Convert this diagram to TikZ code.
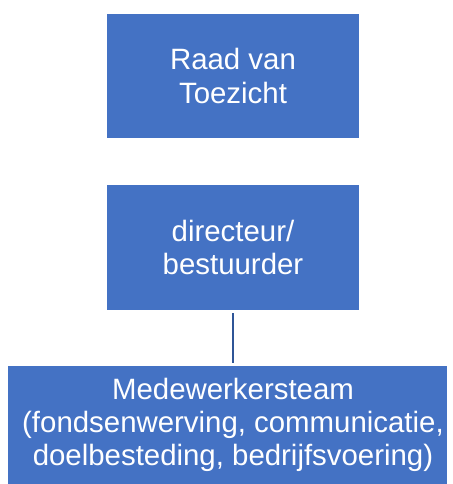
\documentclass[tikz,border=0pt]{standalone}
\usepackage{fontspec}
\setmainfont{Liberation Sans}
\definecolor{boxblue}{HTML}{4472C4}
\definecolor{lineblue}{HTML}{2F5597}
\begin{document}
\begin{tikzpicture}[x=1pt,y=-1pt,
  orgbox/.style={draw=none,fill=boxblue,text=white,align=center,inner sep=0pt,
    font=\fontsize{29.4}{33.2}\selectfont},
  orgtext/.style={text=white,align=center,inner sep=0pt,
    font=\fontsize{29.4}{33.2}\selectfont}]
\useasboundingbox (0,0) rectangle (452,484);
\node[orgbox,minimum width=252pt,minimum height=124pt] (rvt) at (233,76) {Raad van\\Toezicht};
\node[orgbox,minimum width=252pt,minimum height=125pt] (dir) at (233,247.5) {directeur/\\bestuurder};
\node[orgbox,minimum width=439pt,minimum height=118pt] (team) at (227.5,425) {};
\node[orgtext] (teamtext) at (233,425) {Medewerkersteam\\(fondsenwerving, communicatie,\\doelbesteding, bedrijfsvoering)};
\draw[lineblue,line width=2.5pt] ([yshift=-3pt]dir.south) -- ([yshift=3pt]dir.south |- team.north);
\end{tikzpicture}
\end{document}
